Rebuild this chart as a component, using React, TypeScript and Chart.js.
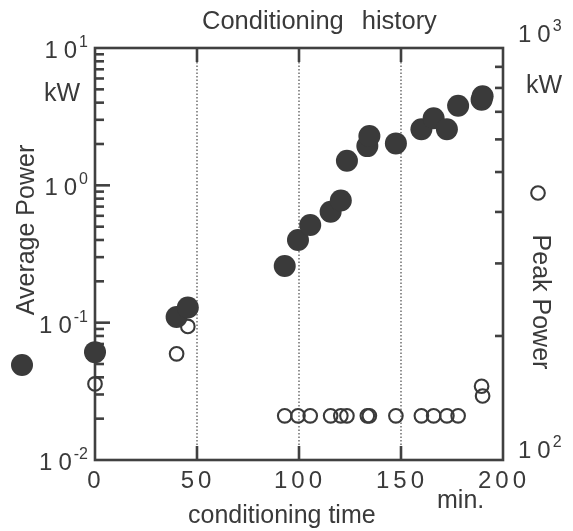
import React, { useEffect, useRef } from 'react';
import { Chart, registerables } from 'chart.js';

Chart.register(...registerables);

// ---- data ----
const times = [0, 40, 45.5, 93, 99.5, 105.5, 115.5, 120.5, 123.5, 133.5, 134.5, 147.5, 160, 166, 172.5, 178, 189.5, 190];
const averagePower = [0.061, 0.11, 0.129, 0.259, 0.4, 0.514, 0.643, 0.776, 1.51, 1.93, 2.29, 2.02, 2.56, 3.08, 2.56, 3.8, 4.2, 4.45];
const peakPower = [153, 181, 211, 128, 128, 128, 128, 128, 128, 128, 128, 128, 128, 128, 128, 128, 151, 143];

const xTicks = [0, 50, 100, 150, 200];
const xTickLabels = ['0', '50', '100', '150', '200'];
const leftExponents = [1, 0, -1, -2];
const rightExponents = [3, 2];
const gridTimes = [50, 100, 150];

const titleWords = ['Conditioning', 'history'];
const xTitle = 'conditioning time';
const xUnit = 'min.';
const leftTitle = 'Average Power';
const rightTitle = 'Peak Power';
const unit = 'kW';

const FONT = '"Liberation Sans", Arial, Helvetica, sans-serif';
const INK = '#3a3a3a';

function spaced(ctx: CanvasRenderingContext2D, text: string, x: number, y: number, gap: number, align: 'left' | 'center' | 'right') {
  const chars = [...text];
  const widths = chars.map((c) => ctx.measureText(c).width);
  const total = widths.reduce((a, b) => a + b, 0) + gap * (chars.length - 1);
  let cx = align === 'center' ? x - total / 2 : align === 'right' ? x - total : x;
  ctx.textAlign = 'left';
  chars.forEach((c, i) => {
    ctx.fillText(c, cx, y);
    cx += widths[i] + gap;
  });
  return total;
}

function pow10(ctx: CanvasRenderingContext2D, exp: number, x: number, y: number, align: 'left' | 'right') {
  ctx.font = `24px ${FONT}`;
  const gap = 6;
  const bw = ctx.measureText('1').width + ctx.measureText('0').width + gap;
  ctx.font = `16px ${FONT}`;
  const es = String(exp);
  const ew = ctx.measureText(es).width;
  const total = bw + 2 + ew;
  const start = align === 'right' ? x - total : x;
  ctx.font = `24px ${FONT}`;
  spaced(ctx, '10', start, y, gap, 'left');
  ctx.font = `16px ${FONT}`;
  ctx.textAlign = 'left';
  ctx.fillText(es, start + bw + 2, y - 11);
}

const framePlugin = {
  id: 'frame',
  beforeDatasetsDraw(chart: any) {
    const { ctx, chartArea } = chart;
    const { left, right, top, bottom } = chartArea;
    const xs = chart.scales.x;
    const ys = chart.scales.y;
    const y2 = chart.scales.y2;
    ctx.save();
    // dotted verticals
    ctx.strokeStyle = '#4a4a4a';
    ctx.lineWidth = 1.2;
    ctx.setLineDash([1.5, 2]);
    gridTimes.forEach((t) => {
      const px = xs.getPixelForValue(t);
      ctx.beginPath();
      ctx.moveTo(px, top);
      ctx.lineTo(px, bottom);
      ctx.stroke();
    });
    ctx.setLineDash([]);
    ctx.strokeStyle = '#404040';
    ctx.lineWidth = 2.6;
    ctx.strokeRect(left, top, right - left, bottom - top);
    // x ticks inward
    gridTimes.forEach((t) => {
      const px = xs.getPixelForValue(t);
      ctx.beginPath();
      ctx.moveTo(px, bottom);
      ctx.lineTo(px, bottom - 14);
      ctx.moveTo(px, top);
      ctx.lineTo(px, top + 14);
      ctx.stroke();
    });
    // left log ticks
    for (let k = -2; k <= 0; k++) {
      for (let m = 1; m <= 9; m++) {
        const v = m * Math.pow(10, k);
        if (v <= 0.01 || v >= 10) continue;
        const py = ys.getPixelForValue(v);
        const len = m === 1 ? 15 : 9;
        ctx.beginPath();
        ctx.moveTo(left, py);
        ctx.lineTo(left + len, py);
        ctx.stroke();
      }
    }
    // right log ticks
    for (let m = 2; m <= 9; m++) {
      const py = y2.getPixelForValue(m * 100);
      ctx.beginPath();
      ctx.moveTo(right, py);
      ctx.lineTo(right - 8, py);
      ctx.stroke();
    }
    ctx.restore();
  },
  afterDraw(chart: any) {
    const { ctx } = chart;
    const xs = chart.scales.x;
    const ys = chart.scales.y;
    const y2 = chart.scales.y2;
    ctx.save();
    ctx.fillStyle = INK;
    ctx.strokeStyle = INK;
    ctx.textBaseline = 'alphabetic';

    // title
    ctx.font = `25.5px ${FONT}`;
    ctx.textAlign = 'left';
    ctx.fillText(titleWords[0], 202, 29);
    const w0 = ctx.measureText(titleWords[0]).width;
    ctx.fillText(titleWords[1], 202 + w0 + 18, 29);

    // left tick labels
    leftExponents.forEach((e) => {
      const py = ys.getPixelForValue(Math.pow(10, e));
      pow10(ctx, e, 88, py + 10, 'right');
    });
    // right tick labels
    rightExponents.forEach((e) => {
      const py = y2.getPixelForValue(Math.pow(10, e));
      pow10(ctx, e, 518, e === 3 ? py - 6 : py - 2, 'left');
    });

    // units
    ctx.font = `25px ${FONT}`;
    ctx.textAlign = 'center';
    ctx.fillText(unit, 62, 101);
    ctx.fillText(unit, 544, 93);

    // x tick labels
    ctx.font = `24px ${FONT}`;
    xTicks.forEach((t, i) => {
      const px = xs.getPixelForValue(t);
      spaced(ctx, xTickLabels[i], px - 1, 488, 4, 'center');
    });

    // x title & unit
    ctx.font = `25px ${FONT}`;
    ctx.textAlign = 'left';
    ctx.fillText(xTitle, 188, 523);
    ctx.fillText(xUnit, 437, 508);

    // left title (rotated)
    ctx.save();
    ctx.translate(34, 230);
    ctx.rotate(-Math.PI / 2);
    ctx.textAlign = 'center';
    ctx.fillText(leftTitle, 0, 0);
    ctx.restore();

    // right title (rotated)
    ctx.save();
    ctx.translate(533, 302);
    ctx.rotate(Math.PI / 2);
    ctx.textAlign = 'center';
    ctx.fillText(rightTitle, 0, 0);
    ctx.restore();

    // legend markers
    ctx.beginPath();
    ctx.arc(22, 365, 11, 0, Math.PI * 2);
    ctx.fill();
    ctx.beginPath();
    ctx.lineWidth = 2.1;
    ctx.arc(538, 193, 6.8, 0, Math.PI * 2);
    ctx.stroke();

    ctx.restore();
  },
};

export default function App() {
  const ref = useRef<HTMLCanvasElement>(null);
  useEffect(() => {
    if (!ref.current) return;
    const chart = new Chart(ref.current, {
      type: 'scatter',
      data: {
        datasets: [
          {
            label: leftTitle,
            data: times.map((t, i) => ({ x: t, y: averagePower[i] })),
            yAxisID: 'y',
            pointRadius: 11,
            pointBackgroundColor: INK,
            pointBorderWidth: 0,
            clip: false,
          } as any,
          {
            label: rightTitle,
            data: times.map((t, i) => ({ x: t, y: peakPower[i] })),
            yAxisID: 'y2',
            pointRadius: 6.8,
            pointBackgroundColor: 'rgba(0,0,0,0)',
            pointBorderColor: INK,
            pointBorderWidth: 2.1,
            clip: false,
          } as any,
        ],
      },
      options: {
        animation: false,
        responsive: false,
        devicePixelRatio: 1,
        layout: { padding: { left: 95, right: 70, top: 48, bottom: 71 } },
        plugins: { legend: { display: false }, tooltip: { enabled: false }, title: { display: false } },
        scales: {
          x: { type: 'linear', min: 0, max: 200, display: false },
          y: { type: 'logarithmic', min: 0.01, max: 10, display: false, position: 'left' },
          y2: { type: 'logarithmic', min: 100, max: 1000, display: false, position: 'right' },
        },
      },
      plugins: [framePlugin],
    });
    return () => chart.destroy();
  }, []);
  return (
    <div style={{ position: 'fixed', left: 0, top: 0, width: 573, height: 531, background: '#fff' }}>
      <canvas ref={ref} width={573} height={531} style={{ display: 'block' }} />
    </div>
  );
}
